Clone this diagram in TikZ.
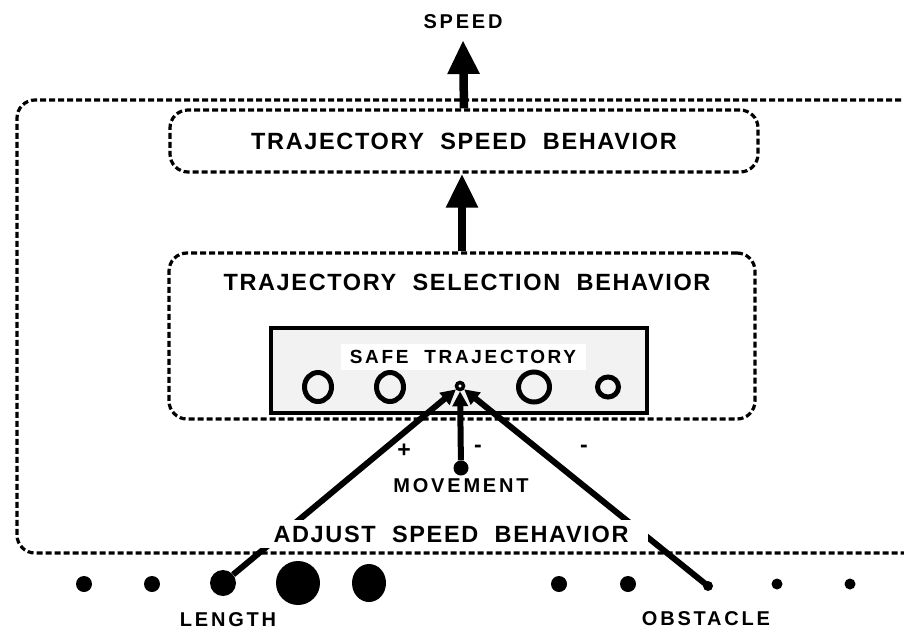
\documentclass[tikz,border=0pt]{standalone}
\usepackage{fontspec}
\setmainfont{Liberation Sans}
\newfontfamily\biglblfont[LetterSpace=7]{Liberation Sans}
\newfontfamily\smalllblfont[LetterSpace=14]{Liberation Sans}
\usetikzlibrary{arrows.meta,shapes.geometric}

\begin{document}
\begin{tikzpicture}[x=1pt,y=-1pt,
  dashbox/.style={draw, line width=3.2pt, dash pattern=on 6pt off 3pt, rounded corners=18pt},
  biglbl/.style={font=\biglblfont\bfseries\fontsize{23.5}{25}\selectfont, inner sep=0pt},
  smalllbl/.style={font=\smalllblfont\bfseries\fontsize{20}{22}\selectfont, inner sep=0pt},
  signlbl/.style={font=\bfseries\fontsize{23}{25}\selectfont, inner sep=0pt},
  bigarrow/.style={line width=8.5pt, -{Triangle[length=34pt,width=30pt]}},
  feed/.style={line width=6pt, -{Triangle[length=15pt,width=15pt]}},
  dot/.style={circle, fill, draw=none, inner sep=0pt},
  blob/.style={ellipse, fill, draw=none, inner sep=0pt},
  ring/.style={ellipse, draw, line width=5pt, inner sep=0pt},
]
\useasboundingbox (0,0) rectangle (904,632);

% open frame round the behaviours
\draw[dashbox] (910,100) -- (17,100) -- (17,553) -- (910,553);

% behaviour boxes
\node[dashbox, minimum width=588pt, minimum height=62pt, biglbl] (speedbox) at (464,141) {TRAJECTORY~~SPEED~~BEHAVIOR};
\node[dashbox, minimum width=586pt, minimum height=166pt] (selbox) at (462,336) {};
\node[biglbl] (sellbl) at (467,282) {TRAJECTORY~~SELECTION~~BEHAVIOR};

% safe trajectory panel
\node[draw, line width=4.5pt, fill=black!5, minimum width=376pt, minimum height=85pt] (safe) at (459,370.5) {};
\node[fill=white, minimum width=245pt, minimum height=26pt, smalllbl, font=\smalllblfont\bfseries\fontsize{19}{21}\selectfont] (safelbl) at (463,357) {SAFE~~TRAJECTORY};
\node[ring, minimum width=27pt, minimum height=29pt] (r1) at (318,387) {};
\node[ring, minimum width=27pt, minimum height=29pt] (r2) at (390,387) {};
\node[ring, minimum width=31pt, minimum height=30pt] (r3) at (534,387) {};
\node[ring, minimum width=21pt, minimum height=20pt] (r4) at (608,387) {};
\node[circle, draw, line width=3.5pt, fill=white, inner sep=0pt, minimum size=7pt] (hub) at (460,386) {};

% output
\node[smalllbl] (speedlbl) at (463,22) {SPEED};
\coordinate (speedout) at (463,40);
\draw[bigarrow] (speedbox.north) -- (speedout);
\draw[bigarrow] (selbox.north) -- (selbox.north |- speedbox.south);

% input field
\node[dot, minimum size=16pt] (d1) at (84,584) {};
\node[dot, minimum size=16pt] (d2) at (152,584) {};
\node[dot, minimum size=26pt] (lendot) at (223,583) {};
\node[blob, minimum width=44pt, minimum height=44pt] (d4) at (298,583) {};
\node[blob, minimum width=34pt, minimum height=38pt] (d5) at (369,583) {};
\node[dot, minimum size=16pt] (d6) at (559,584) {};
\node[dot, minimum size=16pt] (d7) at (628,584) {};
\node[dot, minimum size=10pt] (obsdot) at (708,586) {};
\node[dot, minimum size=11pt] (d9) at (777,584) {};
\node[dot, minimum size=11pt] (d10) at (850,584) {};
\node[dot, minimum size=15pt] (movdot) at (461,468) {};

\node[smalllbl] (lenlbl) at (228,620) {LENGTH};
\node[smalllbl] (obslbl) at (706,619) {OBSTACLE};
\node[smalllbl] (movlbl) at (461,486) {MOVEMENT};

% weighted links into the selected trajectory
\draw[feed] (lendot) -- (hub);
\draw[feed] (movdot) -- (hub);
\draw[feed, line cap=round] (obsdot.center) -- (hub);
\node[signlbl] (plus) at (404,451) {+};
\node[signlbl] (minusa) at (478,449) {-};
\node[signlbl] (minusb) at (584,449) {-};

% frame title over the links
\node[fill=white, minimum width=393pt, minimum height=28pt, biglbl] (adjlbl) at (451,534) {ADJUST~~SPEED~~BEHAVIOR};
\end{tikzpicture}
\end{document}
